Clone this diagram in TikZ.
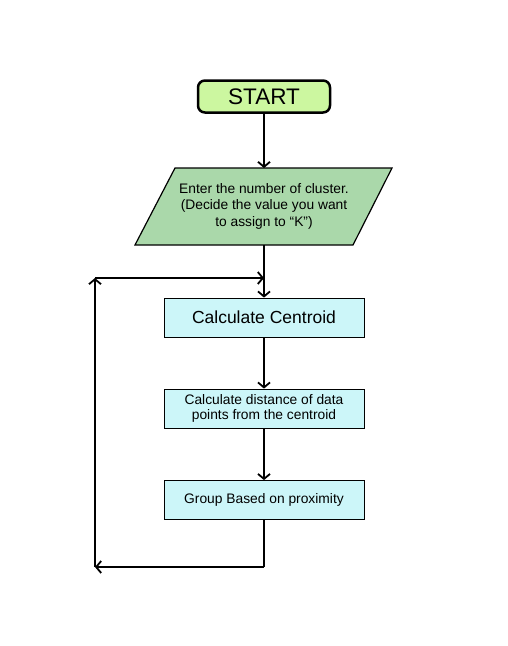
\documentclass[tikz,border=0pt]{standalone}
\usepackage{fontspec}
\setmainfont{Liberation Sans}
\usetikzlibrary{arrows.meta}
\definecolor{startfill}{RGB}{204,247,160}
\definecolor{inputfill}{RGB}{170,216,170}
\definecolor{boxfill}{RGB}{204,246,249}
\tikzset{
  flow/.style={line width=2pt, -{Straight Barb[length=5pt,width=12pt,line width=1.8pt]}},
  plain/.style={line width=2pt},
  procbox/.style={draw=black, line width=0.8pt, fill=boxfill, minimum width=200pt, minimum height=39pt, align=center, inner sep=0pt},
}
\begin{document}
\begin{tikzpicture}[x=1pt,y=-1pt]
\useasboundingbox (0,0) rectangle (507,646);
\node[draw=black, line width=2.5pt, fill=startfill, rounded corners=7pt, minimum width=132pt, minimum height=32pt, inner sep=0pt, font=\fontsize{22.5}{26}\selectfont] (start) at (264,96.5) {START};
\coordinate (ptl) at (175,168);
\coordinate (ptr) at (392,168);
\coordinate (pbr) at (353,245);
\coordinate (pbl) at (135,245);
\draw[fill=inputfill, line width=1.2pt] (ptl) -- (ptr) -- (pbr) -- (pbl) -- cycle;
\coordinate (intop) at (264,168);
\coordinate (inbot) at (264,245);
\node[align=center, font=\fontsize{13.8}{16.5}\selectfont, inner sep=0pt] (input) at (264,206) {Enter the number of cluster.\\(Decide the value you want\\to assign to ``K'')};
\node[procbox, font=\fontsize{17.5}{20}\selectfont] (cent) at (264,317.5) {Calculate Centroid};
\node[procbox, font=\fontsize{13.8}{15.5}\selectfont] (dist) at (264,408.5) {Calculate distance of data\\points from the centroid};
\node[procbox, font=\fontsize{13.8}{15.5}\selectfont] (group) at (264,500) {Group Based on proximity};
\coordinate (join) at (264,278);
\coordinate (bl) at (95,567);
\coordinate (tl) at (95,278);
\coordinate (br) at (264,567);
\draw[flow] (start.south) -- (intop);
\draw[flow] (inbot) -- (cent.north);
\draw[flow] (cent.south) -- (dist.north);
\draw[flow] (dist.south) -- (group.north);
\draw[plain] (group.south) -- (br);
\draw[flow] (br) -- (bl);
\draw[flow] (bl) -- (tl);
\draw[flow] (tl) -- (join);
\end{tikzpicture}
\end{document}
